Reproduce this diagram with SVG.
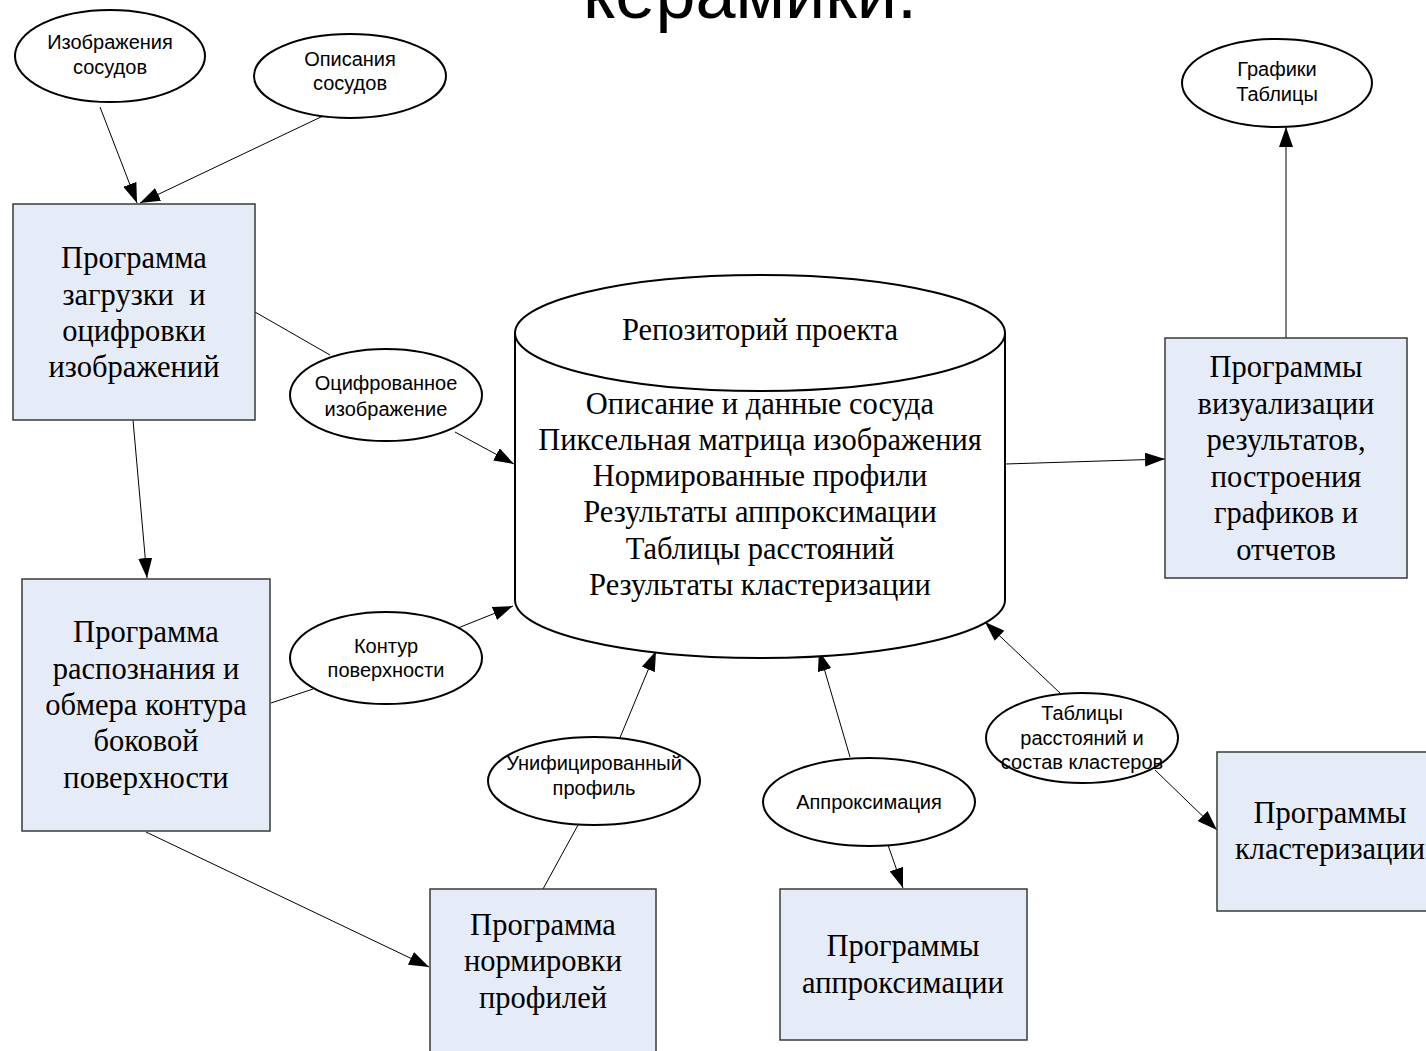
<svg xmlns="http://www.w3.org/2000/svg" width="1426" height="1051" viewBox="0 0 1426 1051">
<defs>
<marker id="arr" viewBox="0 0 20 14" refX="20" refY="7" markerWidth="20" markerHeight="14" markerUnits="userSpaceOnUse" orient="auto">
<path d="M0,0 L20,7 L0,14 Z" fill="#000"/>
</marker>
<style>
.box{fill:#E6ECF7;stroke:#3a3a3a;stroke-width:1.5}
.ell{fill:#fff;stroke:#000;stroke-width:2}
.bt{font-family:"Liberation Serif","Times New Roman",serif;font-size:30.5px;fill:#000;text-anchor:middle}
.ct{font-family:"Liberation Serif","Times New Roman",serif;font-size:30.5px;fill:#000;text-anchor:middle}
.et{font-family:"Liberation Sans",Arial,sans-serif;font-size:20px;fill:#000;text-anchor:middle}
.ln{stroke:#000;stroke-width:1;fill:none}
.la{stroke:#000;stroke-width:1;fill:none;marker-end:url(#arr)}
</style>
</defs>
<rect width="1426" height="1051" fill="#fff"/>
<text x="750" y="18" font-family="'Liberation Sans',Arial,sans-serif" font-size="72" text-anchor="middle" fill="#000">керамики.</text>

<g id="connectors">
<path class="la" d="M100,107 L137,203"/>
<path class="la" d="M323,116 L140,203"/>
<path class="ln" d="M255,312 L330,355"/>
<path class="la" d="M455,432 L514,464"/>
<path class="la" d="M133,420 L147,578"/>
<path class="ln" d="M271,703 L313,689"/>
<path class="la" d="M458,628 L513,606"/>
<path class="la" d="M146,832 L429,967"/>
<path class="ln" d="M543,889 L578,825"/>
<path class="la" d="M619,740 L656,651"/>
<path class="la" d="M850,757 L819,651"/>
<path class="la" d="M888,845 L903,888"/>
<path class="la" d="M1060,693 L985,622"/>
<path class="la" d="M1155,770 L1217,830"/>
<path class="la" d="M1005,464 L1165,459"/>
<path class="la" d="M1286,338 L1286,127"/>
<path class="la" d="M975,360 Q992,350 1004,336"/>
</g>

<g id="repository">
<path class="ell" d="M515,333 L515,600 A245,58 0 0 0 1005,600 L1005,333"/>
<ellipse class="ell" cx="760" cy="333" rx="245" ry="58"/>
<text class="ct" x="760" y="340">Репозиторий проекта</text>
<text class="ct" x="760" y="414">Описание и данные сосуда</text>
<text class="ct" x="760" y="450">Пиксельная матрица изображения</text>
<text class="ct" x="760" y="486">Нормированные профили</text>
<text class="ct" x="760" y="522">Результаты аппроксимации</text>
<text class="ct" x="760" y="559">Таблицы расстояний</text>
<text class="ct" x="760" y="595">Результаты кластеризации</text>
</g>

<g id="img-vessels">
<ellipse class="ell" cx="110" cy="56" rx="95" ry="46"/>
<text class="et" x="110" y="49">Изображения</text>
<text class="et" x="110" y="74">сосудов</text>
</g>
<g id="desc-vessels">
<ellipse class="ell" cx="350" cy="76" rx="96" ry="42"/>
<text class="et" x="350" y="66">Описания</text>
<text class="et" x="350" y="90">сосудов</text>
</g>
<g id="charts">
<ellipse class="ell" cx="1277" cy="83" rx="95" ry="44"/>
<text class="et" x="1277" y="76">Графики</text>
<text class="et" x="1277" y="101">Таблицы</text>
</g>
<g id="digitized">
<ellipse class="ell" cx="386" cy="395" rx="96" ry="46"/>
<text class="et" x="386" y="390">Оцифрованное</text>
<text class="et" x="386" y="416">изображение</text>
</g>
<g id="contour">
<ellipse class="ell" cx="386" cy="658" rx="96" ry="46"/>
<text class="et" x="386" y="653">Контур</text>
<text class="et" x="386" y="677">поверхности</text>
</g>
<g id="unified">
<ellipse class="ell" cx="594" cy="781" rx="106" ry="44"/>
<text class="et" x="594" y="770">Унифицированный</text>
<text class="et" x="594" y="795">профиль</text>
</g>
<g id="approx">
<ellipse class="ell" cx="869" cy="802" rx="106" ry="44"/>
<text class="et" x="869" y="809">Аппроксимация</text>
</g>
<g id="tables">
<ellipse class="ell" cx="1082" cy="738" rx="96" ry="45"/>
<text class="et" x="1082" y="720">Таблицы</text>
<text class="et" x="1082" y="745">расстояний и</text>
<text class="et" x="1082" y="769">состав кластеров</text>
</g>

<g id="box-load">
<rect class="box" x="13" y="204" width="242" height="216"/>
<text class="bt" x="134" y="268">Программа</text>
<text class="bt" x="134" y="305" xml:space="preserve">загрузки  и</text>
<text class="bt" x="134" y="341">оцифровки</text>
<text class="bt" x="134" y="377">изображений</text>
</g>
<g id="box-recog">
<rect class="box" x="22" y="579" width="248" height="252"/>
<text class="bt" x="146" y="642">Программа</text>
<text class="bt" x="146" y="679">распознания и</text>
<text class="bt" x="146" y="715">обмера контура</text>
<text class="bt" x="146" y="751">боковой</text>
<text class="bt" x="146" y="788">поверхности</text>
</g>
<g id="box-norm">
<rect class="box" x="430" y="889" width="226" height="175"/>
<text class="bt" x="543" y="935">Программа</text>
<text class="bt" x="543" y="971">нормировки</text>
<text class="bt" x="543" y="1008">профилей</text>
</g>
<g id="box-approx">
<rect class="box" x="780" y="889" width="247" height="151"/>
<text class="bt" x="903" y="956">Программы</text>
<text class="bt" x="903" y="993">аппроксимации</text>
</g>
<g id="box-cluster">
<rect class="box" x="1217" y="752" width="246" height="159"/>
<text class="bt" x="1330" y="823">Программы</text>
<text class="bt" x="1330" y="859">кластеризации</text>
</g>
<g id="box-vis">
<rect class="box" x="1165" y="338" width="242" height="240"/>
<text class="bt" x="1286" y="377">Программы</text>
<text class="bt" x="1286" y="414">визуализации</text>
<text class="bt" x="1286" y="450">результатов,</text>
<text class="bt" x="1286" y="487">построения</text>
<text class="bt" x="1286" y="523">графиков и</text>
<text class="bt" x="1286" y="560">отчетов</text>
</g>
</svg>
